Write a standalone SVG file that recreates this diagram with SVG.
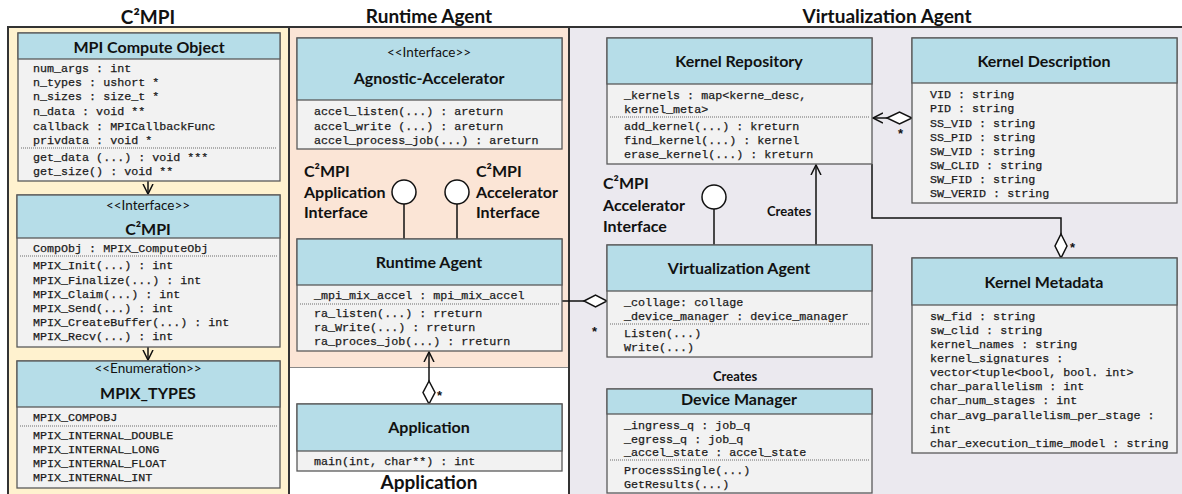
<svg xmlns="http://www.w3.org/2000/svg" width="1182" height="494" viewBox="0 0 1182 494">
<style>
.hdr{fill:#b6dde8;stroke:#5a5a5a;stroke-width:1.3}
.bdy{fill:#f2f2f2;stroke:#5a5a5a;stroke-width:1.3}
.sep{stroke:#6a6a6a;stroke-width:1;stroke-dasharray:1 1}
.ttl{font-family:Lato,"Liberation Sans",sans-serif;font-weight:700;font-size:16px;fill:#111;text-anchor:middle}
.st{font-family:Lato,"Liberation Sans",sans-serif;font-size:13.5px;fill:#111;text-anchor:middle}
.m{font-family:"Liberation Mono","Courier New",monospace;font-size:11.7px;fill:#1a1a1a;stroke:#1a1a1a;stroke-width:0.25}
.sec{font-family:Lato,"Liberation Sans",sans-serif;font-weight:700;font-size:19px;fill:#111;text-anchor:middle}
.lbl{font-family:Lato,"Liberation Sans",sans-serif;font-weight:700;font-size:16px;fill:#111}
.cr{font-family:Lato,"Liberation Sans",sans-serif;font-weight:700;font-size:13px;fill:#111}
.ast{font-family:"Liberation Sans",sans-serif;font-weight:700;font-size:13px;fill:#111}
.ln{stroke:#111;stroke-width:1.5;fill:none}
.dia{fill:#fff;stroke:#111;stroke-width:1.5}
.lol{fill:#fff;stroke:#111;stroke-width:1.5}
.frame{stroke:#333;stroke-width:2;fill:none}
</style>
<defs>
<marker id="open" markerWidth="12" markerHeight="12" refX="10" refY="5" orient="auto" markerUnits="userSpaceOnUse" viewBox="0 0 12 10">
<path d="M0,0 L10,5 L0,10" fill="none" stroke="#111" stroke-width="1.5"/>
</marker>
</defs>

<!-- panels -->
<g id="panels">
<rect x="8" y="27" width="281" height="467" fill="#fff2cf"/>
<rect x="289" y="27" width="280" height="340" fill="#fbe5d6"/>
<rect x="289" y="367" width="280" height="127" fill="#ffffff"/>
<rect x="569" y="27" width="613" height="467" fill="#ebe9ef"/>
<line x1="289" y1="367.5" x2="569" y2="367.5" stroke="#888" stroke-width="1"/>
<line class="frame" x1="7" y1="27" x2="1182" y2="27"/>
<line class="frame" x1="8" y1="27" x2="8" y2="494"/>
<line class="frame" x1="289" y1="27" x2="289" y2="494"/>
<line class="frame" x1="569" y1="27" x2="569" y2="494"/>
<text class="sec" x="148" y="24">C²MPI</text>
<text class="sec" x="429" y="23">Runtime Agent</text>
<text class="sec" x="887" y="23">Virtualization Agent</text>
<text class="sec" x="429" y="489">Application</text>
</g>

<!-- connectors -->
<g id="connectors">
<line class="ln" x1="148" y1="181" x2="148" y2="194" marker-end="url(#open)"/>
<line class="ln" x1="148" y1="347" x2="148" y2="360" marker-end="url(#open)"/>
<line class="ln" x1="429" y1="381" x2="429" y2="352" marker-end="url(#open)"/>
<polygon class="dia" points="429,381 435,392.5 429,404 423,392.5"/>
<text class="ast" x="437" y="400">*</text>
<line class="ln" x1="562" y1="301" x2="584" y2="301"/>
<polygon class="dia" points="584,301 595.5,295 607,301 595.5,307"/>
<text class="ast" x="592" y="336">*</text>
<line class="ln" x1="816" y1="245" x2="816" y2="165" marker-end="url(#open)"/>
<text class="cr" x="767" y="216">Creates</text>
<line class="ln" x1="887" y1="118" x2="873" y2="118" marker-end="url(#open)"/>
<polygon class="dia" points="887,118 899.5,112 912,118 899.5,124"/>
<text class="ast" x="898" y="138">*</text>
<polyline class="ln" points="872,164 872,218 1061,218 1061,234"/>
<polygon class="dia" points="1061,234 1067,246 1061,258 1055,246"/>
<text class="ast" x="1070" y="252">*</text>
<text class="cr" x="713" y="381">Creates</text>
<line class="ln" x1="404" y1="204" x2="404" y2="239"/>
<circle class="lol" cx="404" cy="192" r="12"/>
<line class="ln" x1="457" y1="204" x2="457" y2="239"/>
<circle class="lol" cx="457" cy="192" r="12"/>
<line class="ln" x1="714" y1="209" x2="714" y2="245"/>
<circle class="lol" cx="714" cy="197" r="12"/>
<text class="lbl" x="304" y="177">C²MPI</text>
<text class="lbl" x="304" y="198">Application</text>
<text class="lbl" x="304" y="218">Interface</text>
<text class="lbl" x="476" y="177">C²MPI</text>
<text class="lbl" x="476" y="198">Accelerator</text>
<text class="lbl" x="476" y="218">Interface</text>
<text class="lbl" x="603" y="189">C²MPI</text>
<text class="lbl" x="603" y="211">Accelerator</text>
<text class="lbl" x="603" y="232">Interface</text>
</g>

<!-- MPI Compute Object -->
<g id="mpi-compute-object">
<rect class="bdy" x="18" y="33" width="262" height="148"/>
<rect class="hdr" x="18" y="33" width="262" height="26"/>
<text class="ttl" x="149" y="53">MPI Compute Object</text>
<text class="m" x="33" y="72">num_args : int</text>
<text class="m" x="33" y="86">n_types : ushort *</text>
<text class="m" x="33" y="100">n_sizes : size_t *</text>
<text class="m" x="33" y="115">n_data : void **</text>
<text class="m" x="33" y="130">callback : MPICallbackFunc</text>
<text class="m" x="33" y="144">privdata : void *</text>
<line class="sep" x1="21" y1="148" x2="277" y2="148"/>
<text class="m" x="33" y="161">get_data (...) : void ***</text>
<text class="m" x="33" y="175">get_size() : void  **</text>
</g>

<!-- C2MPI interface -->
<g id="c2mpi-interface">
<rect class="bdy" x="17" y="195" width="263" height="152"/>
<rect class="hdr" x="17" y="195" width="263" height="43"/>
<text class="st" x="148" y="210">&lt;&lt;Interface&gt;&gt;</text>
<text class="ttl" x="148" y="235">C²MPI</text>
<text class="m" x="33" y="252">CompObj : MPIX_ComputeObj</text>
<line class="sep" x1="20" y1="256" x2="277" y2="256"/>
<text class="m" x="33" y="269">MPIX_Init(...) : int</text>
<text class="m" x="33" y="284">MPIX_Finalize(...) : int</text>
<text class="m" x="33" y="298">MPIX_Claim(...) : int</text>
<text class="m" x="33" y="312">MPIX_Send(...) : int</text>
<text class="m" x="33" y="326">MPIX_CreateBuffer(...) : int</text>
<text class="m" x="33" y="340">MPIX_Recv(...) : int</text>
</g>

<!-- MPIX_TYPES -->
<g id="mpix-types">
<rect class="bdy" x="17" y="361" width="263" height="127"/>
<rect class="hdr" x="17" y="361" width="263" height="46"/>
<text class="st" x="148" y="373">&lt;&lt;Enumeration&gt;&gt;</text>
<text class="ttl" x="148" y="399">MPIX_TYPES</text>
<text class="m" x="33" y="421">MPIX_COMPOBJ</text>
<line class="sep" x1="20" y1="426" x2="277" y2="426"/>
<text class="m" x="33" y="439">MPIX_INTERNAL_DOUBLE</text>
<text class="m" x="33" y="453">MPIX_INTERNAL_LONG</text>
<text class="m" x="33" y="467">MPIX_INTERNAL_FLOAT</text>
<text class="m" x="33" y="481">MPIX_INTERNAL_INT</text>
</g>

<!-- Agnostic-Accelerator -->
<g id="agnostic-accelerator">
<rect class="bdy" x="297" y="38" width="265" height="111"/>
<rect class="hdr" x="297" y="38" width="265" height="62"/>
<text class="st" x="429" y="57">&lt;&lt;Interface&gt;&gt;</text>
<text class="ttl" x="429" y="84">Agnostic-Accelerator</text>
<text class="m" x="314" y="115">accel_listen(...) : areturn</text>
<text class="m" x="314" y="130">accel_write (...) : areturn</text>
<text class="m" x="314" y="144">accel_process_job(...) : areturn</text>
</g>

<!-- Runtime Agent -->
<g id="runtime-agent">
<rect class="bdy" x="297" y="239" width="265" height="112"/>
<rect class="hdr" x="297" y="239" width="265" height="46"/>
<text class="ttl" x="429" y="268">Runtime Agent</text>
<text class="m" x="314" y="299">_mpi_mix_accel : mpi_mix_accel</text>
<line class="sep" x1="300" y1="304" x2="559" y2="304"/>
<text class="m" x="314" y="317">ra_listen(...) : rreturn</text>
<text class="m" x="314" y="331">ra_Write(...) : rreturn</text>
<text class="m" x="314" y="345">ra_proces_job(...) : rreturn</text>
</g>

<!-- Application -->
<g id="application">
<rect class="bdy" x="297" y="404" width="265" height="67"/>
<rect class="hdr" x="297" y="404" width="265" height="47"/>
<text class="ttl" x="429" y="433">Application</text>
<text class="m" x="314" y="465">main(int, char**) : int</text>
</g>

<!-- Kernel Repository -->
<g id="kernel-repository">
<rect class="bdy" x="607" y="38" width="265" height="126"/>
<rect class="hdr" x="607" y="38" width="265" height="46"/>
<text class="ttl" x="739" y="67">Kernel Repository</text>
<text class="m" x="624" y="99">_kernels : map&lt;kerne_desc,</text>
<text class="m" x="624" y="113">kernel_meta&gt;</text>
<line class="sep" x1="610" y1="117" x2="869" y2="117"/>
<text class="m" x="624" y="130">add_kernel(...) : kreturn</text>
<text class="m" x="624" y="144">find_kernel(...) : kernel</text>
<text class="m" x="624" y="158">erase_kernel(...) : kreturn</text>
</g>

<!-- Kernel Description -->
<g id="kernel-description">
<rect class="bdy" x="912" y="38" width="265" height="165"/>
<rect class="hdr" x="912" y="38" width="265" height="45"/>
<text class="ttl" x="1044" y="67">Kernel Description</text>
<text class="m" x="930" y="98">VID : string</text>
<text class="m" x="930" y="112">PID : string</text>
<text class="m" x="930" y="127">SS_VID : string</text>
<text class="m" x="930" y="141">SS_PID : string</text>
<text class="m" x="930" y="155">SW_VID : string</text>
<text class="m" x="930" y="169">SW_CLID : string</text>
<text class="m" x="930" y="183">SW_FID : string</text>
<text class="m" x="930" y="197">SW_VERID : string</text>
</g>

<!-- Virtualization Agent -->
<g id="virtualization-agent">
<rect class="bdy" x="607" y="245" width="265" height="112"/>
<rect class="hdr" x="607" y="245" width="265" height="46"/>
<text class="ttl" x="739" y="274">Virtualization Agent</text>
<text class="m" x="624" y="306">_collage: collage</text>
<text class="m" x="624" y="320">_device_manager : device_manager</text>
<line class="sep" x1="610" y1="324" x2="869" y2="324"/>
<text class="m" x="624" y="337">Listen(...)</text>
<text class="m" x="624" y="351">Write(...)</text>
</g>

<!-- Device Manager -->
<g id="device-manager">
<rect class="bdy" x="607" y="389" width="265" height="104"/>
<rect class="hdr" x="607" y="389" width="265" height="25"/>
<text class="ttl" x="739" y="405">Device Manager</text>
<text class="m" x="624" y="429">_ingress_q : job_q</text>
<text class="m" x="624" y="443">_egress_q  : job_q</text>
<text class="m" x="624" y="456">_accel_state : accel_state</text>
<line class="sep" x1="610" y1="460" x2="869" y2="460"/>
<text class="m" x="624" y="474">ProcessSingle(...)</text>
<text class="m" x="624" y="488">GetResults(...)</text>
</g>

<!-- Kernel Metadata -->
<g id="kernel-metadata">
<rect class="bdy" x="912" y="258" width="265" height="195"/>
<rect class="hdr" x="912" y="258" width="265" height="47"/>
<text class="ttl" x="1044" y="288">Kernel Metadata</text>
<text class="m" x="930" y="320">sw_fid : string</text>
<text class="m" x="930" y="334">sw_clid : string</text>
<text class="m" x="930" y="348">kernel_names : string</text>
<text class="m" x="930" y="362">kernel_signatures :</text>
<text class="m" x="930" y="376">vector&lt;tuple&lt;bool, bool. int&gt;</text>
<text class="m" x="930" y="390">char_parallelism : int</text>
<text class="m" x="930" y="404">char_num_stages : int</text>
<text class="m" x="930" y="419">char_avg_parallelism_per_stage :</text>
<text class="m" x="930" y="433">int</text>
<text class="m" x="930" y="447">char_execution_time_model : string</text>
</g>
</svg>
